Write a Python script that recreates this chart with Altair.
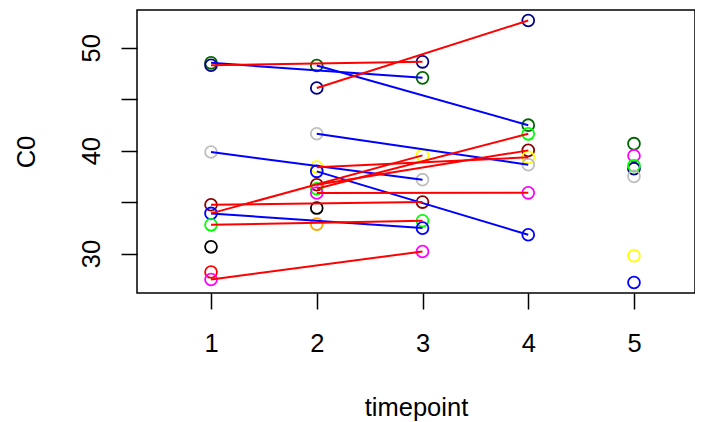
import altair as alt
import pandas as pd

# ---- data ----
point_time = [1, 1, 1, 1, 1, 1, 1, 1, 1,
              2, 2, 2, 2, 2, 2, 2, 2, 2, 2,
              3, 3, 3, 3, 3, 3, 3, 3,
              4, 4, 4, 4, 4, 4, 4, 4,
              5, 5, 5, 5, 5, 5, 5]
point_value = [48.54, 48.31, 39.87, 34.74, 33.90, 32.79, 30.65, 28.20, 27.47,
               48.28, 46.10, 41.65, 38.40, 37.99, 36.69, 36.30, 35.88, 34.42, 32.86,
               48.64, 47.08, 39.54, 37.18, 35.00, 33.18, 32.47, 30.20,
               52.66, 42.48, 41.64, 40.03, 39.35, 38.64, 35.90, 31.82,
               40.68, 39.51, 38.25, 38.54, 37.50, 29.78, 27.18]
point_color = ["darkgreen", "darkblue", "gray", "darkred", "blue", "green", "black", "red", "magenta",
               "darkgreen", "darkblue", "gray", "yellow", "blue", "darkred", "green", "magenta", "black", "orange",
               "darkblue", "darkgreen", "yellow", "gray", "darkred", "green", "blue", "magenta",
               "darkblue", "darkgreen", "green", "darkred", "yellow", "gray", "magenta", "blue",
               "darkgreen", "magenta", "darkblue", "green", "gray", "yellow", "blue"]

seg_t_start = [1, 1, 2, 2, 1, 2, 1, 2, 1, 2, 1, 2, 1, 2, 2, 1]
seg_v_start = [48.54, 48.31, 48.28, 46.10, 39.87, 41.65, 34.74, 36.69, 32.79, 36.30, 33.90, 37.99, 27.47, 35.88, 38.40, 33.90]
seg_t_end = [3, 3, 4, 4, 3, 4, 3, 4, 3, 4, 3, 4, 3, 4, 4, 3]
seg_v_end = [47.08, 48.64, 42.48, 52.66, 37.18, 38.64, 35.00, 40.03, 33.18, 41.64, 32.47, 31.82, 30.20, 35.90, 39.35, 39.54]

x_ticks = [1, 2, 3, 4, 5]
y_ticks = [30, 35, 40, 45, 50]

R_COLORS = {"darkgreen": "#006400", "darkblue": "#00008B", "gray": "#BEBEBE", "darkred": "#8B0000",
            "blue": "#0000FF", "green": "#00FF00", "black": "#000000", "red": "#FF0000",
            "magenta": "#FF00FF", "orange": "#FFA500", "yellow": "#FFFF00"}

points = pd.DataFrame({"timepoint": point_time, "C0": point_value,
                       "col": [R_COLORS[c] for c in point_color]})
segs = pd.DataFrame({"t0": seg_t_start, "v0": seg_v_start, "t1": seg_t_end, "v1": seg_v_end})
segs["col"] = ["#FF0000" if b > a else "#0000FF" for a, b in zip(segs["v0"], segs["v1"])]
segs["order"] = [1 if c == "#FF0000" else 0 for c in segs["col"]]
segs = segs.sort_values("order")

FONT = "Liberation Sans"
FS = 25.5

xscale = alt.Scale(domain=[0.30, 5.577], nice=False, zero=False)
yscale = alt.Scale(domain=[26.16, 53.68], nice=False, zero=False)

xaxis = alt.Axis(values=x_ticks, format="d", title="timepoint", labelPadding=22, titleY=122,
                 titleBaseline="alphabetic", titleAnchor="middle",
                 ticks=True, tickSize=16, tickColor="black", tickWidth=1.5, tickOpacity=1)
yaxis = alt.Axis(values=y_ticks, format="d", title="C0", labelAngle=270, labelAlign="center",
                 labelBaseline="alphabetic", labelPadding=22,
                 labelExpr="datum.value % 10 == 0 ? datum.label : ''",
                 titleAngle=270, titleX=-103, titleY=141.5, titleAlign="center",
                 titleBaseline="alphabetic",
                 ticks=True, tickSize=16, tickColor="black", tickWidth=1.5, tickOpacity=1)

pts = alt.Chart(points).mark_point(shape="circle", filled=False, size=140, strokeWidth=1.8, opacity=1).encode(
    x=alt.X("timepoint:Q", scale=xscale, axis=xaxis),
    y=alt.Y("C0:Q", scale=yscale, axis=yaxis),
    color=alt.Color("col:N", scale=None),
)

lines = alt.Chart(segs).mark_rule(strokeWidth=2).encode(
    x=alt.X("t0:Q", scale=xscale),
    y=alt.Y("v0:Q", scale=yscale),
    x2="t1:Q",
    y2="v1:Q",
    color=alt.Color("col:N", scale=None),
    order="order:Q",
)

chart = alt.layer(pts, lines).properties(
    width=558, height=283,
    autosize=alt.AutoSizeParams(type="none"),
    padding={"left": 129, "top": 2, "right": 0, "bottom": 129},
).configure_view(
    stroke="black", strokeWidth=1.5
).configure_axis(
    domain=False, grid=False,
    labelFont=FONT, labelFontSize=FS, labelColor="black",
    titleFont=FONT, titleFontSize=FS, titleColor="black", titleFontWeight="normal",
)

chart.save("out.html", embed_options={"renderer": "svg", "actions": False})
